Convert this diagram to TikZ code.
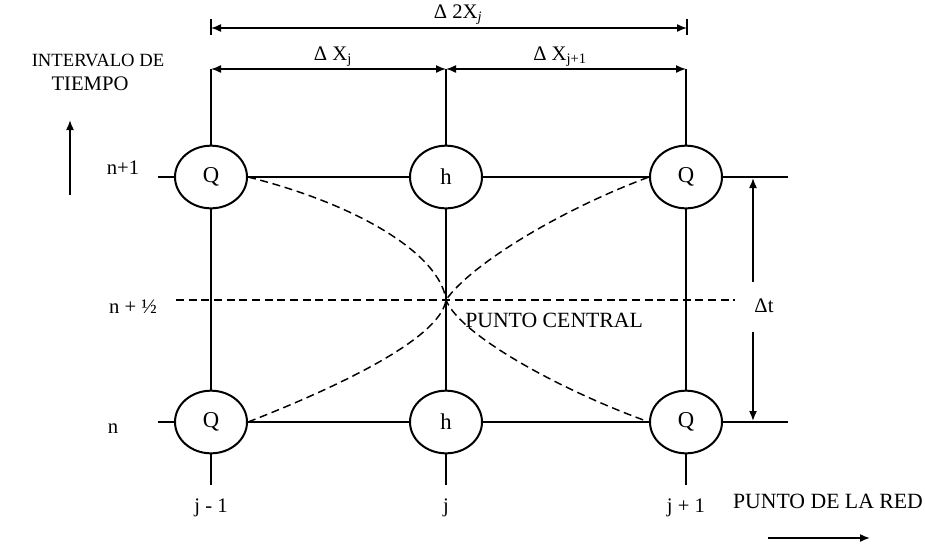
\documentclass[tikz,border=0pt]{standalone}
\usepackage{fontspec}
\setmainfont{Liberation Serif}
\usetikzlibrary{arrows.meta,shapes.geometric}
\tikzset{
  lbl/.style={font=\fontsize{15.5}{18}\selectfont, inner sep=0pt},
  biglbl/.style={font=\fontsize{16.3}{19}\selectfont, inner sep=0pt},
  nodec/.style={draw, ellipse, line width=1.5pt, minimum width=54pt, minimum height=47pt, inner sep=0pt, font=\fontsize{17}{19}\selectfont},
  grid/.style={line width=1.1pt},
  dim/.style={line width=1.1pt, {Latex[length=7.5pt,width=6pt]}-{Latex[length=7.5pt,width=6pt]}},
  arr/.style={line width=1.2pt, -{Latex[length=7.5pt,width=6pt]}},
  dsh/.style={line width=1.1pt, dash pattern=on 6pt off 3.5pt},
}
\begin{document}
\begin{tikzpicture}[x=0.75pt,y=-0.75pt]
\useasboundingbox (0,0) rectangle (925,547);
% grid nodes
\node[nodec] (Q1) at (211,177) {Q};
\node[nodec] (H1) at (446,177) {h};
\node[nodec] (Q2) at (686,177) {Q};
\node[nodec] (Q3) at (211,422) {Q};
\node[nodec] (H2) at (446,422) {h};
\node[nodec] (Q4) at (686,422) {Q};
% coordinates
\coordinate (a1) at (211,69);
\coordinate (a2) at (446,69);
\coordinate (a3) at (686,69);
\coordinate (b1) at (211,485);
\coordinate (b2) at (446,485);
\coordinate (b3) at (686,485);
\coordinate (l1) at (158,177);
\coordinate (l2) at (158,422);
\coordinate (r1) at (788,177);
\coordinate (r2) at (788,422);
\coordinate (d1) at (211,28);
\coordinate (d2) at (687,28);
\coordinate (C) at (446,300);
\coordinate (h1) at (176,300);
\coordinate (h2) at (735,300);
% vertical lines
\draw[grid] (a1) -- (Q1); \draw[grid] (Q1) -- (Q3); \draw[grid] (Q3) -- (b1);
\draw[grid] (a2) -- (H1); \draw[grid] (H1) -- (H2); \draw[grid] (H2) -- (b2);
\draw[grid] (a3) -- (Q2); \draw[grid] (Q2) -- (Q4); \draw[grid] (Q4) -- (b3);
% horizontal lines
\draw[grid] (l1) -- (Q1); \draw[grid] (Q1) -- (H1); \draw[grid] (H1) -- (Q2); \draw[grid] (Q2) -- (r1);
\draw[grid] (l2) -- (Q3); \draw[grid] (Q3) -- (H2); \draw[grid] (H2) -- (Q4); \draw[grid] (Q4) -- (r2);
% dimension lines
\draw[dim] (a1) -- (a2);
\draw[dim] (a2) -- (a3);
\draw[dim] (d1) -- (d2);
\draw[grid] ([yshift=7pt]d1) -- ([yshift=-5pt]d1);
\draw[grid] ([yshift=7pt]d2) -- ([yshift=-5pt]d2);
\node[lbl] (L2x) at (458,15) {Δ 2X\textsubscript{\itshape j}};
\node[lbl] (Lxj) at (333,57) {Δ X\textsubscript{j}};
\node[lbl] (Lxj1) at (560,57) {Δ X\textsubscript{j+1}};
% dashed midline and curves
\draw[dsh] (h1) -- (h2);
\draw[dsh] (Q3.east) .. controls (330,390) and (440,340) .. (C)
  .. controls (470,265) and (560,210) .. (Q2.west);
\draw[dsh] (Q1.east) .. controls (360,205) and (440,255) .. (C)
  .. controls (460,335) and (560,390) .. (Q4.west);
\node[biglbl, anchor=west] (pc) at (465,320) {PUNTO CENTRAL};
% delta t
\coordinate (t1) at (753,282);
\coordinate (t1e) at (753,178);
\coordinate (t2) at (753,332);
\coordinate (t2e) at (753,421);
\draw[arr] (t1) -- (t1e);
\draw[arr] (t2) -- (t2e);
\node[lbl] (dt) at (764,306) {Δt};
% left labels
\node[lbl, font=\fontsize{14}{16}\selectfont] (iv) at (98,60) {INTERVALO DE};
\node[lbl] (tp) at (90,84) {TIEMPO};
\coordinate (u1) at (70,195);
\coordinate (u2) at (70,120);
\draw[arr] (u1) -- (u2);
\node[lbl] (n1) at (123,168) {n+1};
\node[lbl] (nh) at (133,307) {n + ½};
\node[lbl] (n0) at (113,429) {n};
% bottom labels
\node[lbl] (j0) at (211,508) {j - 1};
\node[lbl] (j1) at (446,508) {j};
\node[lbl] (j2) at (686,508) {j + 1};
\node[biglbl] (pr) at (828,501) {PUNTO DE LA RED};
\coordinate (p1) at (768,538);
\coordinate (p2) at (870,538);
\draw[arr] (p1) -- (p2);
\end{tikzpicture}
\end{document}
